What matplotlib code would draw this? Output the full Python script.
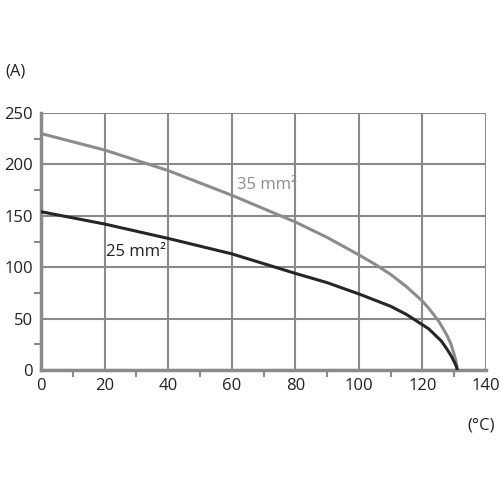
import matplotlib.pyplot as plt
from matplotlib.ticker import MultipleLocator

temp = [0, 20, 40, 60, 80, 90, 100, 105, 110, 115, 120, 122, 125, 126, 128, 129, 130, 130.6, 131]
amp_35 = [230, 214, 194, 170, 144, 129, 112, 103, 93, 81, 67, 60, 48, 43, 32, 25, 15, 8, 0]
amp_25 = [154, 142, 128, 113, 94, 85, 74, 68, 62, 54, 44, 40, 31, 28, 19, 14, 8, 4, 0]

plt.rcParams['font.family'] = ['Open Sans', 'DejaVu Sans']
fig = plt.figure(figsize=(5, 5), dpi=100)
ax = fig.add_axes([0.082, 0.26, 0.89, 0.514])

gc = '#8a8a8a'
ax.plot(temp, amp_35, color='#8c8c8c', lw=2.2, zorder=3)
ax.plot(temp, amp_25, color='#262626', lw=2.2, zorder=3)

ax.set_xlim(0, 140)
ax.set_ylim(0, 250)
ax.xaxis.set_major_locator(MultipleLocator(20))
ax.xaxis.set_minor_locator(MultipleLocator(10))
ax.yaxis.set_major_locator(MultipleLocator(50))
ax.yaxis.set_minor_locator(MultipleLocator(25))
ax.grid(True, which='major', color=gc, lw=1.5)
for s in ['top', 'right']:
    ax.spines[s].set_visible(False)
for s in ['left', 'bottom']:
    ax.spines[s].set_color(gc)
    ax.spines[s].set_linewidth(2.5)
ax.tick_params(which='both', colors=gc, labelcolor='#222222', labelsize=12, width=1.5)
ax.tick_params(which='major', length=0, pad=6)
ax.tick_params(which='minor', length=5)

ax.text(71, 180, '35 mm²', color='#8c8c8c', fontsize=12, ha='center', va='center')
ax.text(30, 115, '25 mm²', color='#222222', fontsize=12, ha='center', va='center')
fig.text(0.01, 0.85, '(A)', fontsize=12, color='#222222')
fig.text(0.99, 0.14, '(°C)', fontsize=12, color='#222222', ha='right')

fig.savefig('out.png')
